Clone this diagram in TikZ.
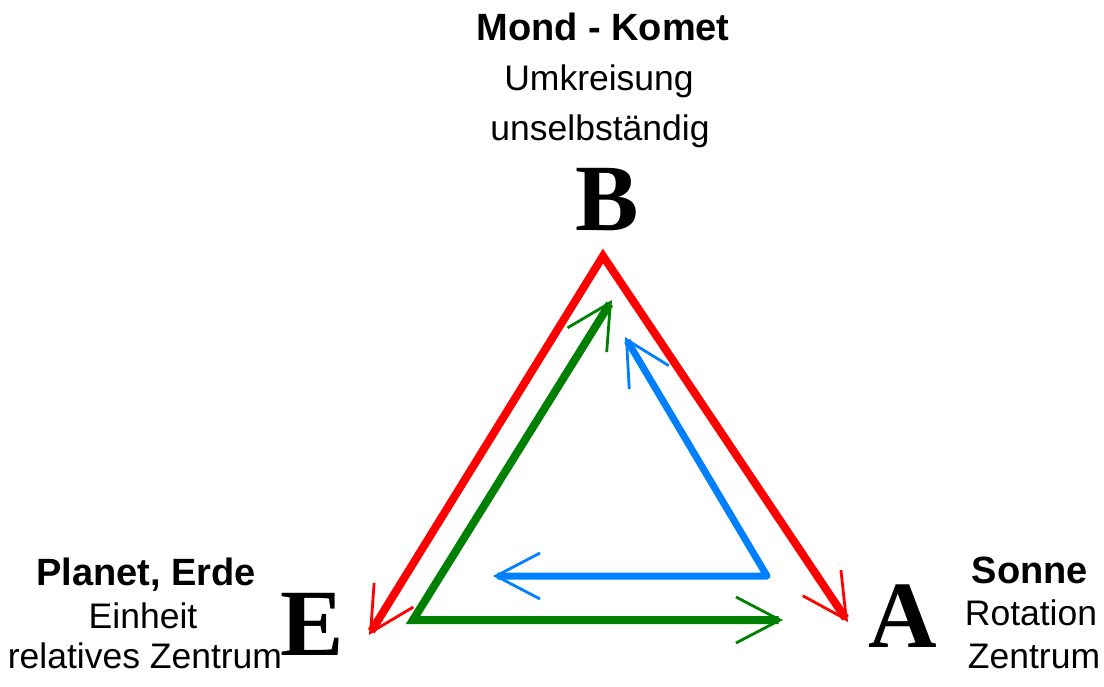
\documentclass[tikz,border=0pt]{standalone}
\usepackage{fontspec}
\usepackage{tikz}
\usetikzlibrary{arrows.meta}
\setmainfont{Liberation Sans}
\newfontfamily\letterfont{Liberation Serif}

\definecolor{trired}{RGB}{255,0,0}
\definecolor{trigreen}{RGB}{0,128,0}
\definecolor{triblue}{RGB}{0,128,255}

\tikzset{
  headline/.style={anchor=base,inner sep=0pt,font=\bfseries\fontsize{38}{40}\selectfont},
  subline/.style={anchor=base,inner sep=0pt,font=\fontsize{35.5}{38}\selectfont},
  corner/.style={anchor=base,inner sep=0pt,font=\letterfont\bfseries\fontsize{95}{95}\selectfont},
  trisides/.style={line width=8pt,>={Straight Barb[length=44pt,width=46pt,line width=2.8pt]},<->}
}

\begin{document}
\begin{tikzpicture}[x=1pt,y=-1pt]
\useasboundingbox (0,0) rectangle (1104,686);

\node[headline] (moontitle) at (603,40) {Mond - Komet};
\node[subline] (moonrole) at (599,90) {Umkreisung};
\node[subline] (moonstate) at (600,140) {unselbständig};
\node[corner] (B) at (607,230) {B};

\node[headline] (earthtitle) at (146,585) {Planet, Erde};
\node[subline] (earthrole) at (143,628) {Einheit};
\node[subline] (earthstate) at (145,668) {relatives Zentrum};
\node[corner] (E) at (312,655) {E};

\node[headline] (suntitle) at (1030,583) {Sonne};
\node[subline] (sunrole) at (1031,625) {Rotation};
\node[subline] (sunstate) at (1034,668) {Zentrum};
\node[corner] (A) at (903,647) {A};

\coordinate (redE) at (369,635);
\coordinate (redB) at (603,256);
\coordinate (redA) at (848,622);
\coordinate (greenB) at (612,300);
\coordinate (greenE) at (413,620);
\coordinate (greenA) at (783,620);
\coordinate (blueB) at (625,337);
\coordinate (blueA) at (767,576);
\coordinate (blueE) at (493,576);

\draw[trisides,trired] (redE) -- (redB) -- (redA);
\draw[trisides,trigreen] (greenB) -- (greenE) -- (greenA);
\draw[trisides,triblue,line width=7pt,line join=round] (blueB) -- (blueA) -- (blueE);
\end{tikzpicture}
\end{document}
